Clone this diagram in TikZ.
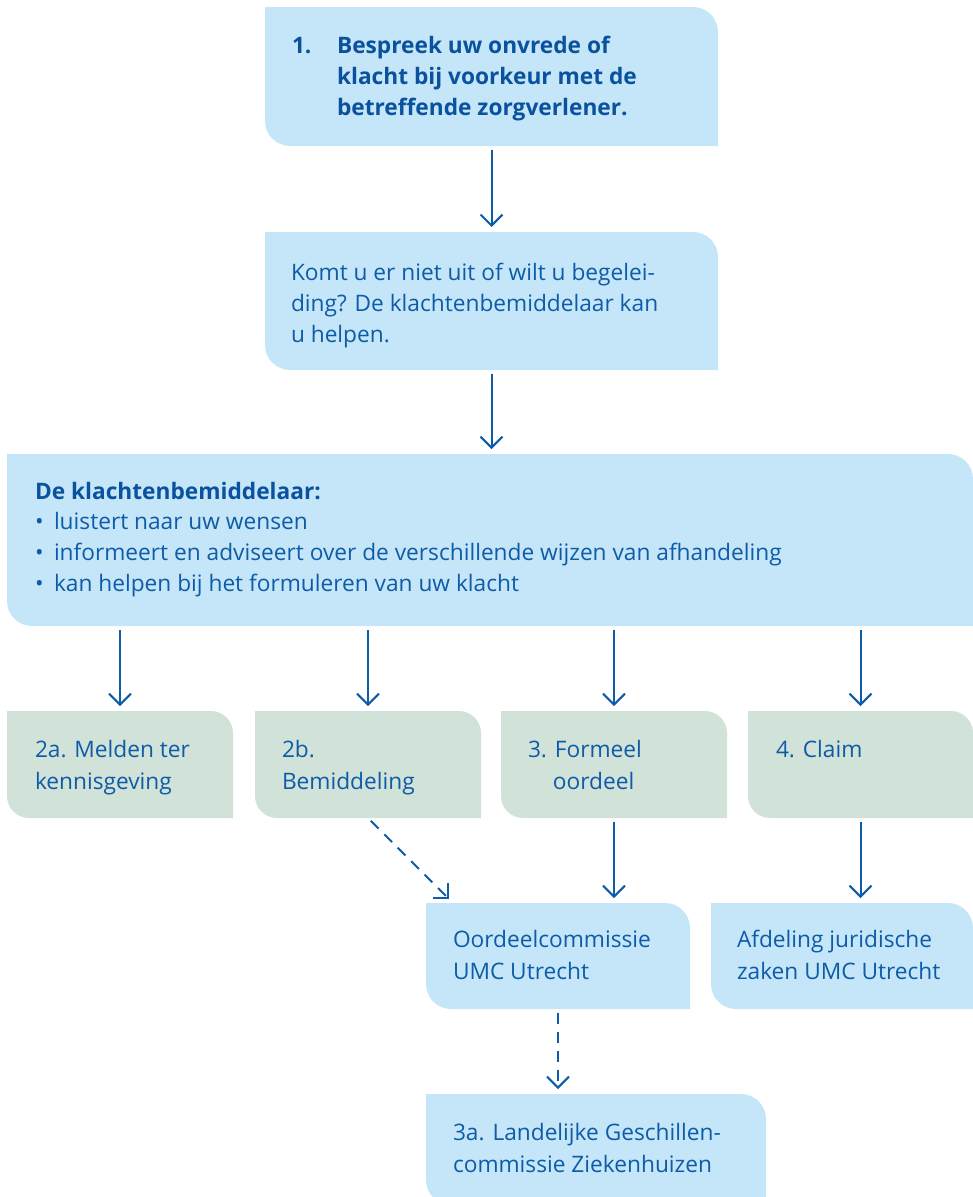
\documentclass[tikz,border=0pt]{standalone}
\usepackage{fontspec}
\setmainfont{Open Sans}
\usetikzlibrary{arrows.meta,calc}
\definecolor{boxblue}{RGB}{196,230,248}
\definecolor{boxgreen}{RGB}{209,226,216}
\definecolor{textblue}{RGB}{14,91,168}
\definecolor{titleblue}{RGB}{10,82,158}
\definecolor{arrowblue}{RGB}{14,91,168}
\newcommand\leafbox[3]{%
  \fill[#2] (#1.north west) -- ($(#1.north east)+(-#3,0)$)
    arc[start angle=270,end angle=360,radius=#3] -- (#1.south east)
    -- ($(#1.south west)+(#3,0)$) arc[start angle=90,end angle=180,radius=#3] -- cycle;}
\tikzset{
  boxnode/.style={rectangle,inner sep=0pt,outer sep=0pt,draw=none},
  txt/.style={anchor=base west,inner sep=0pt,outer sep=0pt,text=textblue,align=left,
    font=\fontsize{22.7}{32}\selectfont},
  txtb/.style={txt,font=\fontsize{22.7}{31}\selectfont},
  bold/.style={txt,text=titleblue,font=\fontsize{22.7}{31}\selectfont\bfseries},
  arr/.style={draw=arrowblue,line width=2pt,-{Straight Barb[length=11pt,width=22pt]},
    shorten <=4pt,shorten >=5pt},
  dasharr/.style={arr,dash pattern=on 11pt off 8pt}
}
\begin{document}
\begin{tikzpicture}[x=1pt,y=-1pt]
\useasboundingbox (0,0) rectangle (973,1197);
\clip (0,0) rectangle (973,1197);
% box outlines (named)
\node[boxnode,minimum width=453pt,minimum height=139pt] (b1) at (491.5,76.5) {};
\node[boxnode,minimum width=453pt,minimum height=138pt] (b2) at (491.5,301) {};
\node[boxnode,minimum width=966pt,minimum height=172pt] (b3) at (490,540) {};
\node[boxnode,minimum width=226pt,minimum height=107pt] (g1) at (120,764.5) {};
\node[boxnode,minimum width=226pt,minimum height=107pt] (g2) at (368,764.5) {};
\node[boxnode,minimum width=226pt,minimum height=107pt] (g3) at (614,764.5) {};
\node[boxnode,minimum width=225pt,minimum height=107pt] (g4) at (860.5,764.5) {};
\node[boxnode,minimum width=264pt,minimum height=106pt] (oord) at (558,956) {};
\node[boxnode,minimum width=262pt,minimum height=106pt] (afd) at (842,956) {};
\node[boxnode,minimum width=340pt,minimum height=111pt] (l3a) at (596,1149.5) {};
% fills
\leafbox{b1}{boxblue}{25}
\leafbox{b2}{boxblue}{25}
\leafbox{b3}{boxblue}{25}
\leafbox{g1}{boxgreen}{22}
\leafbox{g2}{boxgreen}{22}
\leafbox{g3}{boxgreen}{22}
\leafbox{g4}{boxgreen}{22}
\leafbox{oord}{boxblue}{25}
\leafbox{afd}{boxblue}{25}
\leafbox{l3a}{boxblue}{25}
% texts (base anchor = baseline of the last line)
\node[bold] (t1n) at (292,53) {1.};
\node[bold] (t1) at (337,115) {Bespreek uw onvrede of\\klacht bij voorkeur met de\\betreffende zorgverlener.};
\node[txtb] (t2) at (291,342) {Komt u er niet uit of wilt u begelei-\\ding? De klachtenbemiddelaar kan\\u helpen.};
\node[bold] (t3h) at (35,499) {De klachtenbemiddelaar:};
\node[txtb] (t3) at (35,591) {\makebox[19pt][l]{\textbullet}luistert naar uw wensen\\
  \makebox[19pt][l]{\textbullet}informeert en adviseert over de verschillende wijzen van afhandeling\\
  \makebox[19pt][l]{\textbullet}kan helpen bij het formuleren van uw klacht};
\node[txt] (tg1) at (35,789) {2a. Melden ter\\kennisgeving};
\node[txt] (tg2) at (282,789) {2b.\\Bemiddeling};
\node[txt] (tg3) at (528,789) {3. Formeel\\\hphantom{3.}\ oordeel};
\node[txt] (tg4) at (776,757) {4. Claim};
\node[txt] (toord) at (453,979) {Oordeelcommissie\\UMC Utrecht};
\node[txt] (tafd) at (737,979) {Afdeling juridische\\zaken UMC Utrecht};
\node[txt] (tl3a) at (453,1172) {3a. Landelijke Geschillen-\\commissie Ziekenhuizen};
% connectors
\draw[arr] (b1.south) -- (b2.north);
\draw[arr] (b2.south) -- (b2.south |- b3.north);
\foreach \g in {g1,g2,g3,g4}{\draw[arr] (b3.south -| \g.north) -- (\g.north);}
\draw[arr] (g3.south) -- (g3.south |- oord.north);
\draw[arr] (g4.south) -- (g4.south |- afd.north);
\draw[dasharr] (g2.south) -- ($(oord.north west)+(27,0)$);
\draw[dasharr] (oord.south) -- (oord.south |- l3a.north);
\end{tikzpicture}
\end{document}
